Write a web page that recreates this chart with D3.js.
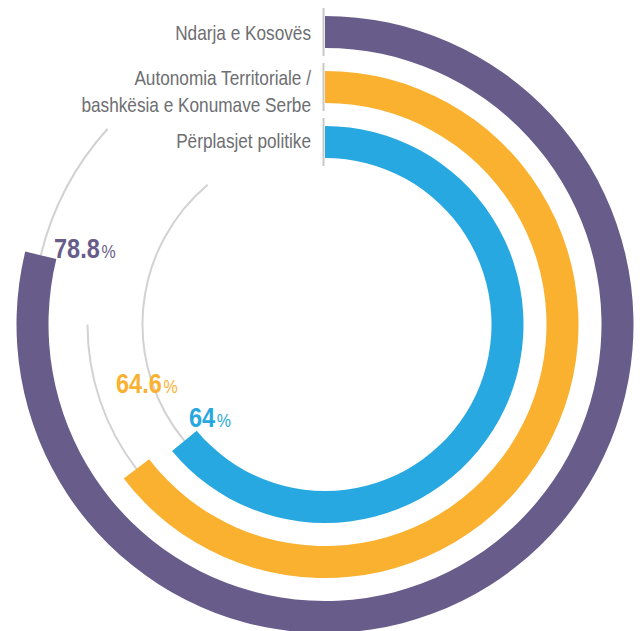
<!DOCTYPE html>
<html><head><meta charset="utf-8">
<script src="https://cdn.jsdelivr.net/npm/d3@7"></script>
<style>
html,body{margin:0;padding:0;background:#fff;}
svg{display:block;}
</style></head>
<body>
<script>
// ---- data ----
const categories = ["Ndarja e Kosovës", "Autonomia Territoriale / bashkësia e Konumave Serbe", "Përplasjet politike"];
const categoryLines = [["Ndarja e Kosovës"], ["Autonomia Territoriale /", "bashkësia e Konumave Serbe"], ["Përplasjet politike"]];
const values = [78.8, 64.6, 64];
const valueLabels = ["78.8", "64.6", "64"];
const colors = ["#685c8a", "#fbb130", "#28a8e0"];

// ---- layout ----
const W = 640, H = 631;
const cx = 325, cy = 324.5;
const leaderEndDeg = [312, 270, 320];
const labelPos = [[54, 258], [116, 393], [189, 427]];
const catBaseY = [[40], [85, 112], [148]];

const svg = d3.select("body").append("svg").attr("width", W).attr("height", H);
const g = svg.append("g").attr("transform", `translate(${cx},${cy})`);

const angle = d3.scaleLinear().domain([0, 100]).range([0, 2 * Math.PI]);
const ring = d3.scaleBand()
  .domain(d3.range(values.length).reverse())
  .range([166.5, 308.5])
  .paddingInner(23 / 55).paddingOuter(0);
const innerR = i => ring(i);
const outerR = i => ring(i) + ring.bandwidth();

const arc = d3.arc();

// gray leader arcs
values.forEach((v, i) => {
  const r = (outerR(i) + innerR(i)) / 2;
  g.append("path")
    .attr("d", arc({innerRadius: r, outerRadius: r, startAngle: angle(v), endAngle: leaderEndDeg[i] * Math.PI / 180}))
    .attr("fill", "none").attr("stroke", "#d2d2d2").attr("stroke-width", 2);
});

// bars
g.selectAll("path.bar").data(values).join("path")
  .attr("class", "bar")
  .attr("d", (v, i) => arc({innerRadius: innerR(i), outerRadius: outerR(i), startAngle: 0, endAngle: angle(v)}))
  .attr("fill", (v, i) => colors[i]);

// vertical tick marks at start
values.forEach((v, i) => {
  g.append("line")
    .attr("x1", -1.5).attr("x2", -1.5)
    .attr("y1", -outerR(i) - 8).attr("y2", -innerR(i) + 8)
    .attr("stroke", "#c8c8c8").attr("stroke-width", 2);
});

const FONT = "'Liberation Sans', Arial, sans-serif";

// category labels
categoryLines.forEach((lines, i) => {
  lines.forEach((t, k) => {
    svg.append("text")
      .attr("transform", `translate(311,${catBaseY[i][k]}) scale(0.82,1)`)
      .attr("text-anchor", "end")
      .attr("font-family", FONT).attr("font-size", 21)
      .attr("fill", "#6d6e71")
      .text(t);
  });
});

// value labels
valueLabels.forEach((t, i) => {
  const tx = svg.append("text")
    .attr("transform", `translate(${labelPos[i][0]},${labelPos[i][1]}) scale(0.84,1)`)
    .attr("font-family", FONT).attr("font-weight", "bold")
    .attr("fill", colors[i]);
  tx.append("tspan").attr("font-size", 28).text(t);
  tx.append("tspan").attr("font-size", 19).attr("font-weight", "normal").attr("dx", 2).text("%");
});
</script>
</body></html>
